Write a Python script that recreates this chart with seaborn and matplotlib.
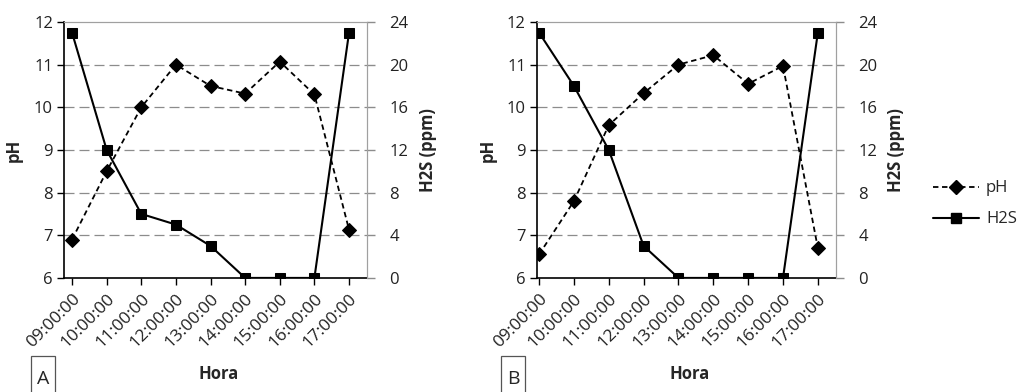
import pandas as pd
import seaborn as sns
import matplotlib.pyplot as plt
from matplotlib.lines import Line2D
from matplotlib.patches import Rectangle

# Data
horas = ['09:00:00', '10:00:00', '11:00:00', '12:00:00', '13:00:00',
         '14:00:00', '15:00:00', '16:00:00', '17:00:00']
ph_a = [6.9, 8.5, 10.0, 11.0, 10.5, 10.32, 11.07, 10.3, 7.13]
h2s_a = [23, 12, 6, 5, 3, 0, 0, 0, 23]
ph_b = [6.55, 7.8, 9.58, 10.33, 11.0, 11.22, 10.55, 10.97, 6.7]
h2s_b = [23, 18, 12, 3, 0, 0, 0, 0, 23]

sns.set_style("white")
plt.rcParams['font.family'] = ['Open Sans', 'DejaVu Sans']

fig = plt.figure(figsize=(10.17, 3.92), dpi=100)

# (letter, pH, H2S, axes rect, xlim, letter box left in px)
panels = [
    ('A', ph_a, h2s_a, [0.0630, 0.291, 0.2979, 0.653], (-0.23, 8.52), 31),
    ('B', ph_b, h2s_b, [0.5280, 0.291, 0.2940, 0.653], (-0.06, 8.52), 501),
]

for letra, ph, h2s, rect, xl, bx in panels:
    df = pd.DataFrame({'Hora': horas, 'pH': ph, 'H2S': h2s})
    ax = fig.add_axes(rect)
    ax2 = ax.twinx()

    sns.lineplot(data=df, x='Hora', y='pH', ax=ax, color='black', lw=1.3,
                 linestyle=(0, (3, 2)), marker='D', markersize=7,
                 markeredgecolor='black', sort=False, zorder=3)
    sns.lineplot(data=df, x='Hora', y='H2S', ax=ax2, color='black', lw=1.5,
                 marker='s', markersize=7.5, markeredgecolor='black',
                 sort=False, zorder=3)

    ax.set_ylim(6, 12)
    ax.set_yticks(range(6, 13))
    ax2.set_ylim(0, 24)
    ax2.set_yticks(range(0, 25, 4))
    ax.set_xlim(*xl)

    for y in range(7, 12):
        ax.axhline(y, color='#8c8c8c', lw=0.9, ls=(0, (8, 4)), zorder=0)

    ax.set_xticks(range(len(horas)))
    ax.set_xticklabels(horas, rotation=45, ha='right', rotation_mode='anchor')
    ax.tick_params(axis='x', length=5, width=1, color='black', pad=4,
                   labelsize=12.5, labelcolor='#222222', direction='out', bottom=True)
    ax.tick_params(axis='y', length=5, width=1, color='black', pad=3,
                   labelsize=12, labelcolor='#222222', direction='out', left=True)
    ax2.tick_params(axis='y', length=6, width=1, color='#8c8c8c', pad=10,
                    labelsize=12, labelcolor='#222222', direction='out', right=True)

    for s in ['left', 'bottom']:
        ax.spines[s].set_color('black')
        ax.spines[s].set_linewidth(1.2)
    for s in ['top', 'right']:
        ax.spines[s].set_color('#a0a0a0')
        ax2.spines[s].set_color('#a0a0a0')
    ax2.spines['left'].set_visible(False)
    ax2.spines['bottom'].set_visible(False)

    ax.set_xlabel('Hora', fontsize=12, fontweight='bold')
    ax.set_ylabel('pH', fontsize=12, fontweight='bold')
    ax2.set_ylabel('H2S (ppm)', fontsize=12, fontweight='bold')
    ax.xaxis.set_label_coords(0.51, -0.34)
    ax.yaxis.set_label_coords(-41 / 303, 0.5)
    ax2.yaxis.set_label_coords(1 + 52 / 303, 0.5)

    # panel letter in a small box
    fig.add_artist(Rectangle((bx / 1017, -0.01), 24 / 1017, 40 / 392,
                             transform=fig.transFigure, fill=False,
                             edgecolor='#555555', lw=0.9))
    fig.text((bx + 12) / 1017, 0.032, letra, fontsize=14, ha='center', va='center')

handles = [
    Line2D([], [], color='black', lw=1.3, ls=(0, (3, 2)), marker='D', markersize=7),
    Line2D([], [], color='black', lw=1.5, marker='s', markersize=7.5),
]
fig.legend(handles, ['pH', 'H2S'], loc='center left', bbox_to_anchor=(0.917, 0.48),
           frameon=False, fontsize=12, handlelength=2.8, labelspacing=0.9,
           handletextpad=0.4, borderpad=0, borderaxespad=0, numpoints=1)

fig.savefig('out.png', dpi=100)
